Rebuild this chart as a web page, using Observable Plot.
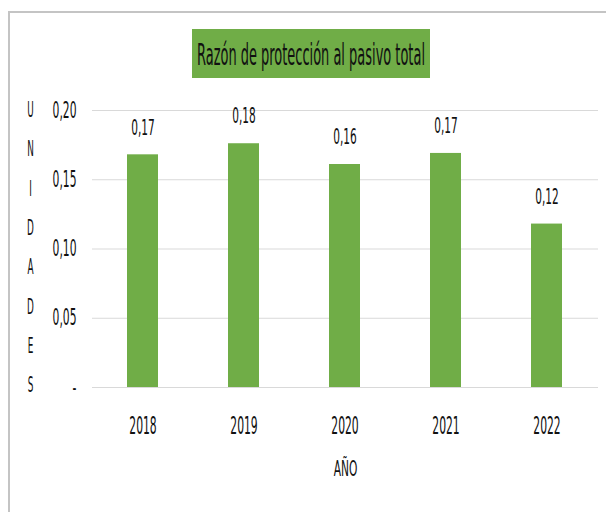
<!DOCTYPE html>
<html>
<head>
<meta charset="utf-8">
<script src="https://cdn.jsdelivr.net/npm/d3@7"></script>
<script src="https://cdn.jsdelivr.net/npm/@observablehq/plot@0.6"></script>
<style>
  html, body { margin: 0; padding: 0; background: #fff; }
  #wrap { position: relative; width: 606px; height: 512px; overflow: hidden; font-family: "DejaVu Sans Condensed", "Liberation Sans Narrow", sans-serif; }
  #frame { position: absolute; left: 8px; top: 11px; right: -10px; bottom: -10px; border-top: 2px solid #c4c4c4; border-left: 2px solid #c4c4c4; }
  #title { position: absolute; left: 192px; top: 29px; width: 238px; height: 49px; background: #70ad47; overflow: visible; }
  #title span { position: absolute; left: 50%; top: 50%; white-space: nowrap; font-size: 29.5px; color: #111; line-height: 1; }
  #chart { position: absolute; left: 0; top: 0; }
</style>
</head>
<body>
<div id="wrap">
  <div id="frame"></div>
  <div id="chart"></div>
  <div id="title"><span id="titleText"></span></div>
</div>
<script>
const titleText = "Razón de protección al pasivo total";
const years = ["2018", "2019", "2020", "2021", "2022"];
const values = [0.168, 0.176, 0.161, 0.169, 0.118];
const valueLabels = ["0,17", "0,18", "0,16", "0,17", "0,12"];
const yTicks = [0, 0.05, 0.10, 0.15, 0.20];
const yTickLabels = ["-", "0,05", "0,10", "0,15", "0,20"];
const yAxisLetters = ["U", "N", "I", "D", "A", "D", "E", "S"];
const xAxisTitle = "AÑO";

// title: condensed to the reference width
const tspan = document.getElementById("titleText");
tspan.textContent = titleText;
const tw = tspan.getBoundingClientRect().width;
const ts = 228 / tw;
tspan.style.transform = `translate(-50%, -44%) scaleX(${ts})`;

const data = years.map((y, i) => ({year: y, value: values[i], label: valueLabels[i]}));
const tickLabel = new Map(yTicks.map((t, i) => [t, yTickLabels[i]]));

const chart = Plot.plot({
  width: 606,
  height: 512,
  marginTop: 110,
  marginBottom: 125,
  marginLeft: 92,
  marginRight: 8,
  style: {fontFamily: '"DejaVu Sans Condensed", "Liberation Sans Narrow", sans-serif', background: "transparent", color: "#111"},
  x: {domain: years, paddingInner: 0.69, paddingOuter: 0.345},
  y: {domain: [0, 0.2]},
  marks: [
    Plot.gridY(yTicks, {stroke: "#d9d9d9", strokeOpacity: 1, strokeWidth: 1}),
    Plot.barY(data, {x: "year", y: "value", fill: "#70ad47"}),
    Plot.axisY({ticks: yTicks, tickSize: 0, tickPadding: 16, fontSize: 22.5, tickFormat: d => tickLabel.get(d), label: null, className: "sq53"}),
    Plot.axisX({tickSize: 0, tickPadding: 29, fontSize: 24, label: null, className: "sq50"}),
    Plot.text(data, {x: "year", y: "value", text: "label", dy: -27, fontSize: 21, lineAnchor: "middle", fill: "#111", className: "sq56"}),
    Plot.text([xAxisTitle], {frameAnchor: "bottom", dy: 82, fontSize: 21.5, lineAnchor: "middle", fill: "#111", className: "sq55"}),
    Plot.text([yAxisLetters.join("\n")], {frameAnchor: "left", dx: -62, dy: -7, fontSize: 20.5, lineHeight: 1.92, lineAnchor: "middle", textAnchor: "middle", fill: "#111", className: "sq48"})
  ]
});
document.getElementById("chart").appendChild(chart);

// The reference text is strongly condensed: squeeze glyphs horizontally
const squeeze = {sq53: 0.53, sq50: 0.5, sq56: 0.56, sq55: 0.55, sq48: 0.48};
Object.entries(squeeze).forEach(([cls, f]) => {
  chart.querySelectorAll(`.${cls} text, text.${cls}`).forEach(t => {
    const parts = t.querySelectorAll("tspan");
    const items = parts.length ? Array.from(parts) : [t];
    items.forEach(s => {
      const w = s.getComputedTextLength();
      if (w > 0) { s.setAttribute("textLength", w * f); s.setAttribute("lengthAdjust", "spacingAndGlyphs"); }
    });
  });
});
</script>
</body>
</html>
